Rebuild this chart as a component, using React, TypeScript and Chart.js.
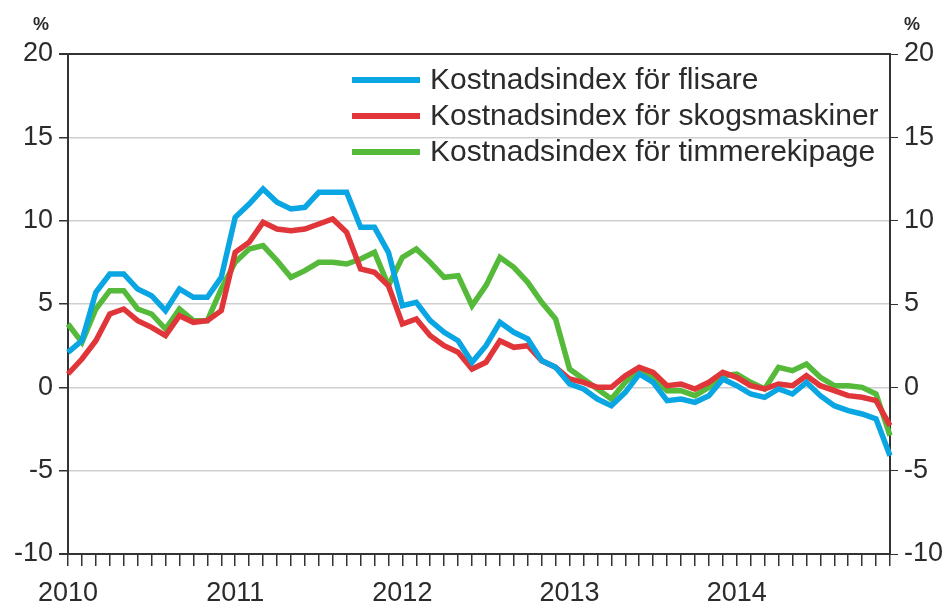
import React, { useEffect, useRef } from 'react';
import { Chart, registerables } from 'chart.js';

Chart.register(...registerables);

const years = ['2010', '2011', '2012', '2013', '2014'];
const monthNums = ['01', '02', '03', '04', '05', '06', '07', '08', '09', '10', '11', '12'];
const categories: string[] = years.flatMap((y) => monthNums.map((m) => `${y}M${m}`));

const seriesNames = [
  'Kostnadsindex för flisare',
  'Kostnadsindex för skogsmaskiner',
  'Kostnadsindex för timmerekipage',
];

const flisare = [
  2.1, 2.8, 5.7, 6.8, 6.8, 5.9, 5.5, 4.6, 5.9, 5.4,
  5.4, 6.6, 10.2, 11.0, 11.9, 11.1, 10.7, 10.8, 11.7, 11.7,
  11.7, 9.6, 9.6, 8.1, 4.9, 5.1, 4.0, 3.3, 2.8, 1.5,
  2.5, 3.9, 3.3, 2.9, 1.6, 1.2, 0.2, -0.1, -0.7, -1.1,
  -0.3, 0.8, 0.3, -0.8, -0.7, -0.9, -0.5, 0.5, 0.1, -0.4,
  -0.6, -0.1, -0.4, 0.3, -0.5, -1.1, -1.4, -1.6, -1.9, -4.1,
];

const skogsmaskiner = [
  0.8, 1.7, 2.8, 4.4, 4.7, 4.0, 3.6, 3.1, 4.3, 3.9,
  4.0, 4.6, 8.1, 8.7, 9.9, 9.5, 9.4, 9.5, 9.8, 10.1,
  9.3, 7.1, 6.9, 6.1, 3.8, 4.1, 3.1, 2.5, 2.1, 1.1,
  1.5, 2.8, 2.4, 2.5, 1.6, 1.2, 0.5, 0.3, 0.0, 0.0,
  0.7, 1.2, 0.9, 0.1, 0.2, -0.1, 0.3, 0.9, 0.6, 0.1,
  -0.1, 0.2, 0.1, 0.7, 0.1, -0.2, -0.5, -0.6, -0.8, -2.3,
];

const timmerekipage = [
  3.8, 2.7, 4.7, 5.8, 5.8, 4.7, 4.4, 3.5, 4.7, 4.0,
  4.0, 5.9, 7.5, 8.3, 8.5, 7.6, 6.6, 7.0, 7.5, 7.5,
  7.4, 7.7, 8.1, 6.1, 7.8, 8.3, 7.5, 6.6, 6.7, 4.9,
  6.1, 7.8, 7.2, 6.3, 5.1, 4.1, 1.1, 0.5, -0.1, -0.7,
  0.3, 1.1, 0.6, -0.2, -0.2, -0.5, 0.0, 0.7, 0.8, 0.3,
  -0.1, 1.2, 1.0, 1.4, 0.6, 0.1, 0.1, 0.0, -0.4, -2.9,
];

const seriesColors = ['#0aa5e3', '#e0363a', '#55b93a'];

const FONT = "'Liberation Sans', Arial, sans-serif";
const TEXT = '#2b2b2b';
const AXIS = '#333333';
const GRID = '#cfcfcf';

const overlayPlugin = {
  id: 'overlay',
  afterDraw(chart: any) {
    const ctx = chart.ctx;
    ctx.save();
    // unit labels
    ctx.fillStyle = TEXT;
    ctx.font = `bold 18px ${FONT}`;
    ctx.textBaseline = 'alphabetic';
    ctx.textAlign = 'left';
    ctx.fillText('%', 33, 30);
    ctx.fillText('%', 904, 30);
    // legend
    const rows = [80, 116, 152];
    chart.data.datasets.forEach((ds: any, i: number) => {
      const y = rows[i];
      ctx.strokeStyle = ds.borderColor;
      ctx.lineWidth = 6;
      ctx.beginPath();
      ctx.moveTo(352, y);
      ctx.lineTo(420, y);
      ctx.stroke();
      ctx.fillStyle = TEXT;
      ctx.font = `30px ${FONT}`;
      ctx.textBaseline = 'middle';
      ctx.fillText(ds.label, 430, y + 1);
    });
    ctx.restore();
  },
};

export default function App() {
  const ref = useRef<HTMLCanvasElement | null>(null);

  useEffect(() => {
    document.body.style.margin = '0';
    if (!ref.current) return;
    const gridColor = (c: any) =>
      c.tick && (c.tick.value === 20 || c.tick.value === -10) ? AXIS : GRID;
    const gridWidth = (c: any) =>
      c.tick && (c.tick.value === 20 || c.tick.value === -10) ? 2 : 1.5;

    const chart = new Chart(ref.current, {
      type: 'line',
      data: {
        labels: categories,
        datasets: [flisare, skogsmaskiner, timmerekipage].map((d, i) => ({
          label: seriesNames[i],
          data: d,
          borderColor: seriesColors[i],
          backgroundColor: seriesColors[i],
          borderWidth: 5.5,
          pointRadius: 0,
          tension: 0,
          fill: false,
          yAxisID: 'y',
        })),
      },
      options: {
        responsive: false,
        animation: false,
        maintainAspectRatio: false,
        layout: { padding: { top: 54, left: 0, right: 0, bottom: 0 } },
        plugins: {
          legend: { display: false },
          tooltip: { enabled: false },
        },
        scales: {
          x: {
            type: 'category',
            offset: false,
            grid: {
              drawOnChartArea: false,
              drawTicks: true,
              tickLength: 12,
              tickColor: AXIS,
              lineWidth: 1.5,
            },
            border: { display: true, color: AXIS, width: 2 },
            ticks: {
              autoSkip: false,
              maxRotation: 0,
              minRotation: 0,
              padding: 11,
              color: TEXT,
              font: { family: FONT, size: 27 },
              callback: (_v: any, i: number) => {
                const lab = categories[i];
                return lab.endsWith('M01') ? lab.slice(0, 4) : '';
              },
            },
            afterFit: (s: any) => {
              s.height = 53;
            },
          },
          y: {
            position: 'left',
            min: -10,
            max: 20,
            grid: {
              color: gridColor,
              lineWidth: gridWidth,
              tickColor: AXIS,
              tickLength: 9,
              drawTicks: true,
            },
            border: { display: true, color: AXIS, width: 2 },
            ticks: {
              stepSize: 5,
              padding: 6,
              color: TEXT,
              font: { family: FONT, size: 27 },
            },
            afterFit: (s: any) => {
              s.width = 68;
            },
          },
          y2: {
            position: 'right',
            min: -10,
            max: 20,
            grid: {
              drawOnChartArea: false,
              tickColor: AXIS,
              tickLength: 8,
              drawTicks: true,
            },
            border: { display: true, color: AXIS, width: 2 },
            ticks: {
              stepSize: 5,
              padding: 6,
              color: TEXT,
              font: { family: FONT, size: 27 },
            },
            afterFit: (s: any) => {
              s.width = 56;
            },
          },
        },
      },
      plugins: [overlayPlugin],
    });
    return () => chart.destroy();
  }, []);

  return (
    <div style={{ position: 'absolute', left: 0, top: 0, width: 946, height: 607, background: '#fff' }}>
      <canvas ref={ref} width={946} height={607} />
    </div>
  );
}
